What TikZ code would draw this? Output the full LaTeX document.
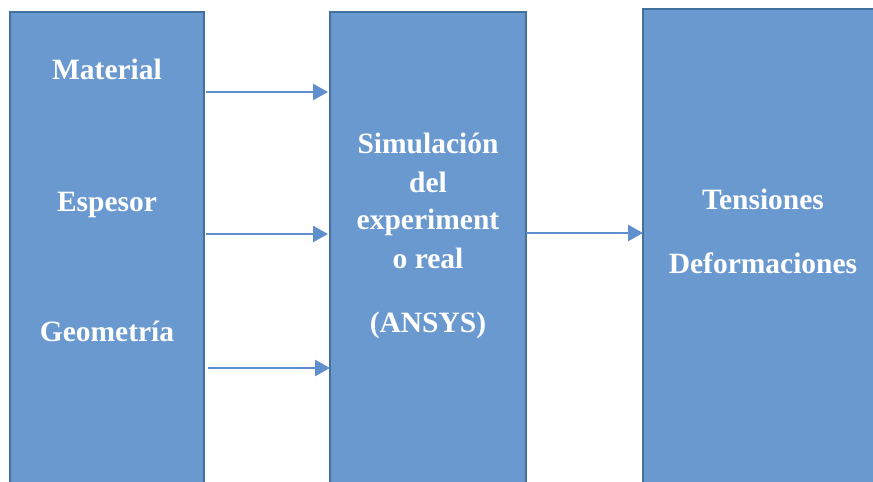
\documentclass[tikz,border=0pt]{standalone}
\usepackage{fontspec}
\setmainfont{Liberation Serif}
\usetikzlibrary{arrows.meta}
\definecolor{boxfill}{HTML}{6A99D0}
\definecolor{boxline}{HTML}{41719C}
\definecolor{arrowc}{HTML}{5F8FCC}
\begin{document}
\begin{tikzpicture}[x=1pt,y=1pt,
  blockbox/.style={draw=boxline,fill=boxfill,line width=1.5pt,rectangle,inner sep=0pt,outer sep=0pt,anchor=north west},
  lbl/.style={text=white,font=\bfseries\fontsize{29.5}{35}\selectfont,anchor=base,inner sep=0pt},
  arr/.style={draw=arrowc,line width=2.5pt,-{Triangle[length=15pt,width=16pt]}}]
\useasboundingbox (0,0) rectangle (873,-482);
\node[blockbox,minimum width=194pt,minimum height=490pt] (L) at (10,-12) {};
\node[blockbox,minimum width=196pt,minimum height=490pt] (M) at (330,-12) {};
\node[blockbox,minimum width=240pt,minimum height=495pt] (R) at (643,-9) {};
% labels
\node[lbl] (mat) at (107,-79) {Material};
\node[lbl] (esp) at (107,-211) {Espesor};
\node[lbl] (geo) at (107,-341) {Geometría};
\node[lbl] (s1) at (428,-153) {Simulación};
\node[lbl] (s2) at (428,-192) {del};
\node[lbl] (s3) at (428,-229) {experiment};
\node[lbl] (s4) at (428,-268) {o real};
\node[lbl] (s5) at (428,-332) {(ANSYS)};
\node[lbl] (t1) at (763,-209) {Tensiones};
\node[lbl] (t2) at (763,-273) {Deformaciones};
% arrows
\coordinate (y1) at (0,-92);
\coordinate (y2) at (0,-234);
\coordinate (y3) at (0,-368);
\coordinate (y4) at (0,-233);
\draw[arr] ([xshift=2pt]L.east |- y1) -- ([xshift=-2pt]M.west |- y1);
\draw[arr] ([xshift=2pt]L.east |- y2) -- ([xshift=-2pt]M.west |- y2);
\draw[arr] ([xshift=4pt]L.east |- y3) -- (M.west |- y3);
\draw[arr] (M.east |- y4) -- (R.west |- y4);
\end{tikzpicture}
\end{document}
